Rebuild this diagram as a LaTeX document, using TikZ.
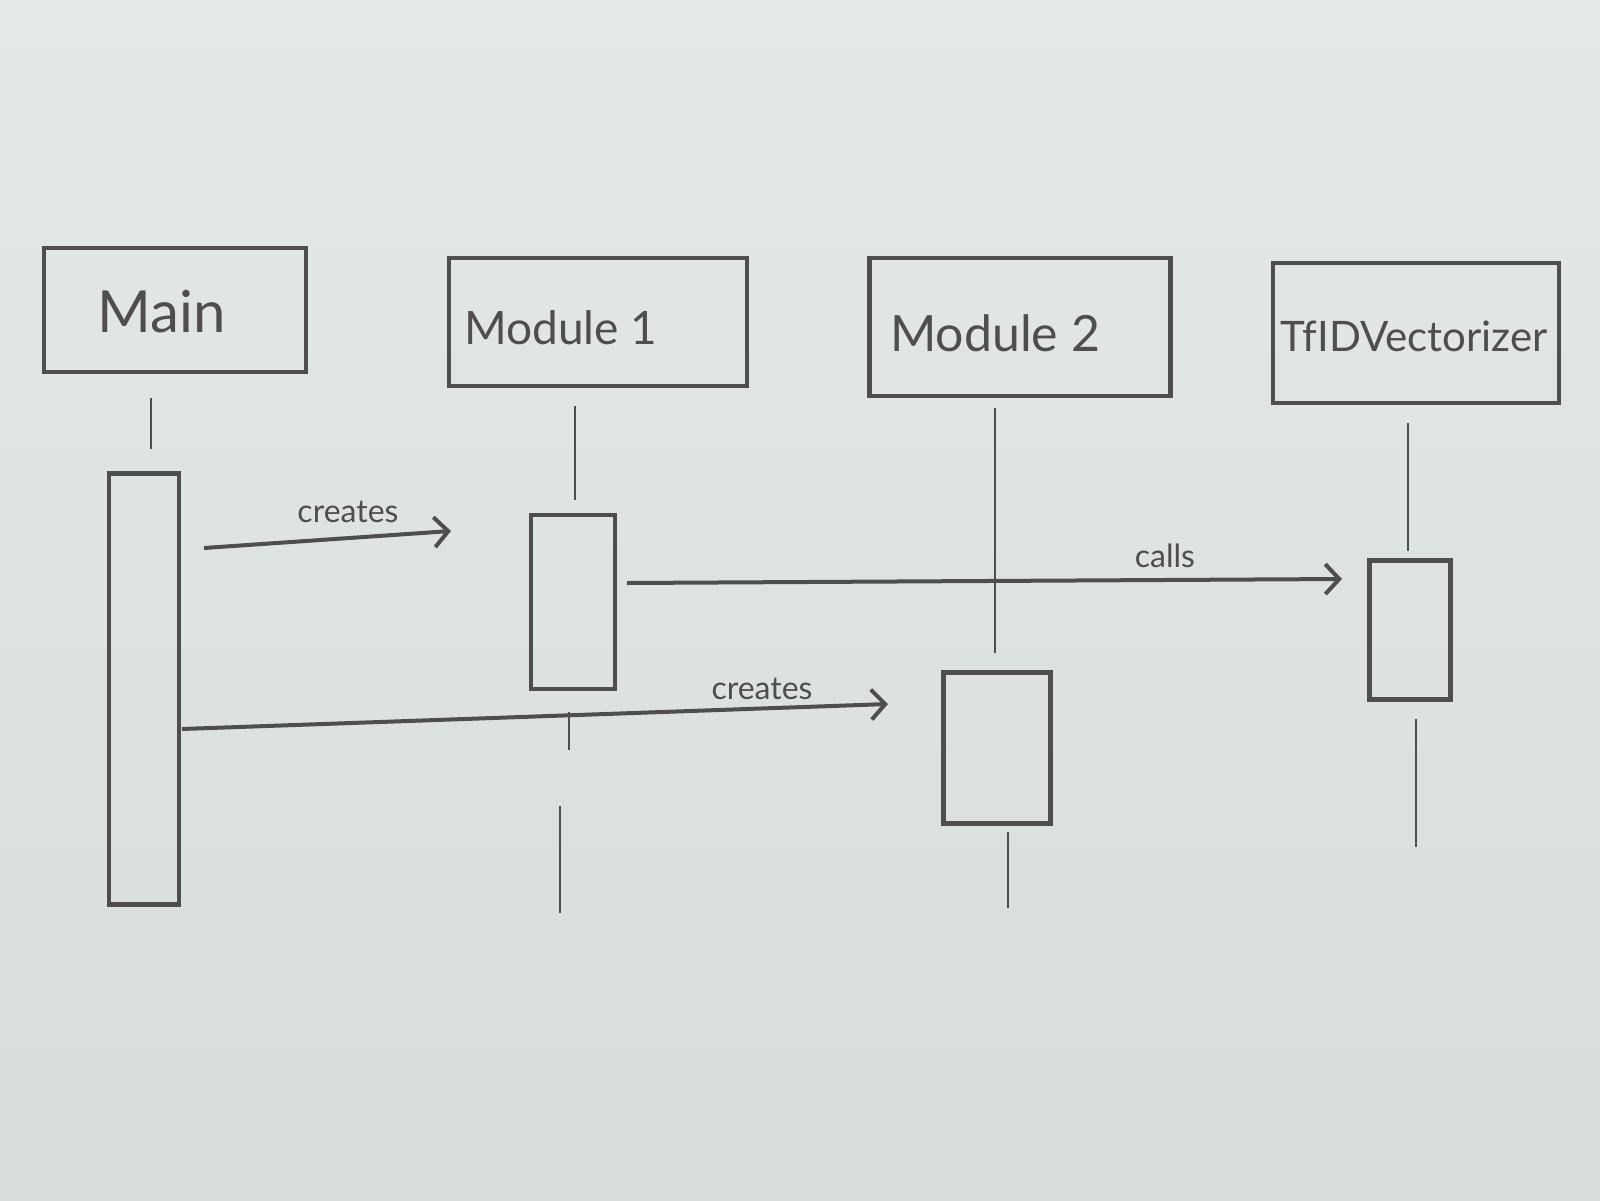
\documentclass[tikz,border=0pt]{standalone}
\usepackage{fontspec}
\setmainfont{Lato}
\usetikzlibrary{arrows.meta}
\definecolor{paper}{HTML}{D8DDDC}
\definecolor{papertop}{HTML}{E4E8E6}
\definecolor{pencil}{HTML}{4E4E4E}
\tikzset{
  head/.style={draw=pencil, line width=4.5pt, minimum height=124pt, inner sep=0pt, text=pencil},
  act/.style={draw=pencil, line width=4.5pt, inner sep=0pt},
  life/.style={draw=pencil, line width=2pt},
  msg/.style={draw=pencil, line width=4pt, -{Straight Barb[length=14pt,width=30pt,line width=4pt]}},
  lbl/.style={font=\fontsize{32}{32}\selectfont, text=pencil},
  htext/.style={text=pencil, anchor=west, inner sep=0pt},
}
\begin{document}
\begin{tikzpicture}[x=1pt,y=-1pt]
\shade[top color=papertop, bottom color=paper] (0,0) rectangle (1600,1200);
\useasboundingbox (0,0) rectangle (1600,1200);

% header boxes
\node[head, minimum width=262pt, minimum height=124pt] (mainH) at (175,310) {};
\node[head, minimum width=298pt, minimum height=128pt] (m1H) at (598,322) {};
\node[head, minimum width=301pt, minimum height=138pt] (m2H) at (1020,327) {};
\node[head, minimum width=286pt, minimum height=140pt] (tfH) at (1416,333) {};
\node[htext, font=\fontsize{58}{58}\selectfont] (mainT) at (97,312) {Main};
\node[htext, font=\fontsize{46}{46}\selectfont] (m1T) at (464,328) {Module 1};
\node[htext, font=\fontsize{50}{50}\selectfont] (m2T) at (890,333) {Module 2};
\node[htext, font=\fontsize{42}{42}\selectfont] (tfT) at (1280,336) {TfIDVectorizer};

% activation boxes
\node[act, minimum width=70pt, minimum height=431pt] (mainA) at (144,689) {};
\node[act, minimum width=84pt, minimum height=174pt] (m1A) at (573,602) {};
\node[act, minimum width=107pt, minimum height=151pt] (m2A) at (997,748) {};
\node[act, minimum width=81pt, minimum height=139pt] (tfA) at (1410,630) {};

% lifelines
\coordinate (l0a) at (151,398); \coordinate (l0b) at (151,449);
\coordinate (l1a) at (575,406); \coordinate (l1b) at (575,500);
\coordinate (l1c) at (569,712); \coordinate (l1d) at (569,750);
\coordinate (l1e) at (560,806); \coordinate (l1f) at (560,913);
\coordinate (l2a) at (995,408); \coordinate (l2b) at (995,653);
\coordinate (l2c) at (1008,832); \coordinate (l2d) at (1008,908);
\coordinate (l3a) at (1408,423); \coordinate (l3b) at (1408,551);
\coordinate (l3c) at (1416,719); \coordinate (l3d) at (1416,847);
\draw[life] (l0a) -- (l0b);
\draw[life] (l1a) -- (l1b);
\draw[life] (l1c) -- (l1d);
\draw[life] (l1e) -- (l1f);
\draw[life] (l2a) -- (l2b);
\draw[life] (l2c) -- (l2d);
\draw[life] (l3a) -- (l3b);
\draw[life] (l3c) -- (l3d);

% messages
\coordinate (a1s) at (204,548); \coordinate (a1e) at (451,531);
\coordinate (a2s) at (627,583); \coordinate (a2e) at (1342,579);
\coordinate (a3s) at (182,729); \coordinate (a3e) at (888,704);
\draw[msg] (a1s) -- (a1e);
\draw[msg] (a2s) -- (a2e);
\draw[msg] (a3s) -- (a3e);
\node[lbl] (l1) at (348,512) {creates};
\node[lbl] (l2) at (1165,556) {calls};
\node[lbl] (l3) at (762,689) {creates};
\end{tikzpicture}
\end{document}
